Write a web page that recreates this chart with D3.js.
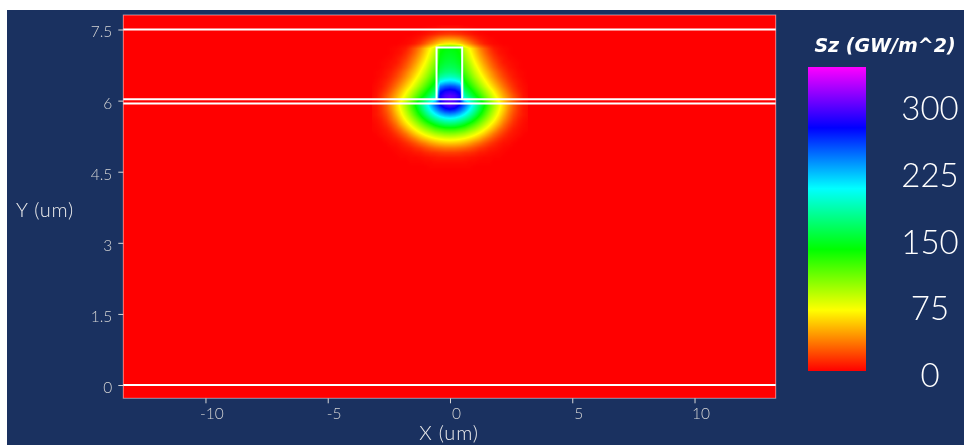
<!DOCTYPE html>
<html>
<head>
<meta charset="utf-8">
<script src="https://cdn.jsdelivr.net/npm/d3@7"></script>
<style>
  html, body { margin: 0; padding: 0; background: #ffffff; }
  #wrap { position: relative; width: 964px; height: 445px; overflow: hidden; }
  #wrap svg, #wrap canvas { position: absolute; left: 0; top: 0; }
</style>
</head>
<body>
<div id="wrap"></div>
<script>
// ---- Axis ticks ----
const xTicks = [-10, -5, 0, 5, 10];
const yTicks = [0, 1.5, 3, 4.5, 6, 7.5];
const cbTicks = [0, 75, 150, 225, 300];
const cbMax = 342;

// ---- Geometry (um): horizontal interfaces and the rib outline ----
const layerY = [7.5, 6.03, 5.94, 0];
const ribX = [-0.55, 0.5];
const ribY = [6.03, 7.12];

// ---- Sz field (GW/m^2), half profile x >= 0 (mode is symmetric in x) ----
const xHalf = [0, 0.2, 0.4, 0.6, 0.8, 1.0, 1.2, 1.4, 1.6, 1.8, 2.0, 2.2, 2.4, 2.6, 2.8, 3.0, 3.2];
const yRows = [7.6, 7.5, 7.4, 7.3, 7.2, 7.1, 7.0, 6.9, 6.8, 6.7, 6.6, 6.5, 6.4, 6.3, 6.2, 6.1,
               6.0, 5.9, 5.8, 5.7, 5.6, 5.5, 5.4, 5.3, 5.2, 5.1, 5.0, 4.9, 4.8, 4.7, 4.6, 4.5];
const szRows = [
  [1,1,1,0,0,0,0,0,0,0,0,0,0,0,0,0,0],
  [5,5,4,3,2,1,0,0,0,0,0,0,0,0,0,0,0],
  [16,15,13,10,7,4,2,1,0,0,0,0,0,0,0,0,0],
  [41,40,36,28,20,13,7,4,2,1,0,0,0,0,0,0,0],
  [66,64,58,48,37,25,15,8,4,2,1,0,0,0,0,0,0],
  [140,138,132,82,68,53,37,25,15,7,4,2,1,0,0,0,0],
  [144,142,136,89,74,58,43,30,19,11,5,3,1,0,0,0,0],
  [148,146,140,96,79,64,49,36,25,15,9,5,2,1,0,0,0],
  [153,151,144,103,87,70,56,42,30,20,12,6,4,2,1,0,0],
  [160,158,151,110,94,77,63,49,36,25,16,10,5,3,1,0,0],
  [170,168,160,118,101,85,70,56,44,32,22,14,8,5,2,1,0],
  [188,185,177,127,110,93,78,64,50,38,27,18,11,6,3,1,0],
  [216,213,203,138,121,104,88,73,59,46,34,24,15,9,5,2,0],
  [254,250,239,150,133,116,99,83,68,55,42,30,20,12,6,3,1],
  [282,278,265,165,148,130,113,96,80,65,51,38,26,16,9,4,1],
  [298,293,279,182,163,144,126,108,90,74,59,45,33,22,13,5,2],
  [298,292,275,214,191,168,146,124,103,84,67,51,37,24,14,6,3],
  [298,290,271,246,219,192,165,139,115,94,75,57,40,25,14,7,4],
  [268,263,248,228,204,180,155,130,109,89,70,54,36,23,13,6,3],
  [232,228,218,202,183,162,139,119,99,81,64,47,31,19,11,6,3],
  [196,193,185,173,158,139,121,104,87,71,55,39,26,15,8,4,2],
  [162,160,153,143,130,117,103,88,73,59,45,30,19,11,6,3,1],
  [128,127,122,116,106,96,84,71,59,46,32,22,13,7,4,2,1],
  [101,100,96,91,83,75,65,55,43,31,22,14,8,5,3,1,0],
  [76,75,72,68,62,55,47,37,28,20,13,8,5,3,1,0,0],
  [54,53,51,47,42,35,29,22,16,11,7,4,3,1,0,0,0],
  [32,32,30,28,24,20,15,12,8,6,4,2,1,0,0,0,0],
  [16,16,15,13,12,10,7,6,4,3,2,1,0,0,0,0,0],
  [7,7,7,6,5,4,3,2,2,1,1,0,0,0,0,0,0],
  [3,3,3,3,2,2,1,1,1,0,0,0,0,0,0,0,0],
  [1,1,1,1,1,0,0,0,0,0,0,0,0,0,0,0,0],
  [0,0,0,0,0,0,0,0,0,0,0,0,0,0,0,0,0]
];

// ---- Layout ----
const W = 964, H = 445;
const bg = "#1a3160";
const frame = { left: 7, top: 10 };
const plot = { left: 123.3, top: 15, right: 775.7, bottom: 398.3 };
const bar = { left: 808, right: 866, top: 67, bottom: 371 };

const x = d3.scaleLinear().domain([-13.36, 13.32]).range([plot.left, plot.right]);
const y = d3.scaleLinear().domain([-0.28, 7.806]).range([plot.bottom, plot.top]);

// rainbow map: red -> yellow -> green -> cyan -> blue -> magenta
const rainbow = ["#ff0000", "#ffff00", "#00ff00", "#00ffff", "#0000ff", "#ff00ff"];
const color = d3.scaleLinear()
  .domain(rainbow.map((c, i) => i * cbMax / (rainbow.length - 1)))
  .range(rainbow)
  .clamp(true);

const wrap = d3.select("#wrap");

// background layer
const back = wrap.append("svg").attr("width", W).attr("height", H);
back.append("rect").attr("x", frame.left).attr("y", frame.top)
  .attr("width", W - frame.left).attr("height", H - frame.top).attr("fill", bg);

// ---- Field raster ----
const fullX = xHalf.slice(1).map(v => -v).reverse().concat(xHalf);
const fullRows = szRows.map(r => r.slice(1).reverse().concat(r));
const colIdx = d3.scaleLinear().domain([fullX[0], fullX[fullX.length - 1]]).range([0, fullX.length - 1]);
const rowIdx = d3.scaleLinear().domain([yRows[0], yRows[yRows.length - 1]]).range([0, yRows.length - 1]);

function sample(xv, yv) {
  const ci = colIdx(xv), ri = rowIdx(yv);
  if (ci < 0 || ri < 0 || ci > fullX.length - 1 || ri > yRows.length - 1) return 0;
  const c0 = Math.min(Math.floor(ci), fullX.length - 2), r0 = Math.min(Math.floor(ri), yRows.length - 2);
  const tc = ci - c0, tr = ri - r0;
  const a = fullRows[r0][c0], b = fullRows[r0][c0 + 1];
  const c = fullRows[r0 + 1][c0], d = fullRows[r0 + 1][c0 + 1];
  return (a * (1 - tc) + b * tc) * (1 - tr) + (c * (1 - tc) + d * tc) * tr;
}

// colour lookup table
const lut = d3.range(1024).map(i => d3.rgb(color(i / 1023 * cbMax)));

const cx0 = Math.round(plot.left), cy0 = Math.round(plot.top);
const cw = Math.round(plot.right) - cx0, ch = Math.round(plot.bottom) - cy0;
const canvas = wrap.append("canvas")
  .attr("width", cw).attr("height", ch)
  .style("left", cx0 + "px").style("top", cy0 + "px");
const ctx = canvas.node().getContext("2d");
const img = ctx.createImageData(cw, ch);
for (let j = 0; j < ch; j++) {
  const yv = y.invert(cy0 + j + 0.5);
  for (let i = 0; i < cw; i++) {
    const xv = x.invert(cx0 + i + 0.5);
    const v = sample(xv, yv);
    const k = Math.max(0, Math.min(1023, Math.round(v / cbMax * 1023)));
    const c = lut[k];
    const p = (j * cw + i) * 4;
    img.data[p] = c.r; img.data[p + 1] = c.g; img.data[p + 2] = c.b; img.data[p + 3] = 255;
  }
}
ctx.putImageData(img, 0, 0);

// ---- Front layer: geometry, axes, colour bar ----
const svg = wrap.append("svg").attr("width", W).attr("height", H);

svg.append("rect")
  .attr("x", plot.left).attr("y", plot.top)
  .attr("width", plot.right - plot.left).attr("height", plot.bottom - plot.top)
  .attr("fill", "none").attr("stroke", "rgba(255,230,230,0.55)").attr("stroke-width", 1);

const geo = svg.append("g").attr("fill", "none").attr("stroke", "#ffffff").attr("stroke-width", 2);
geo.selectAll("line.layer").data(layerY).join("line")
  .attr("class", "layer")
  .attr("x1", plot.left).attr("x2", plot.right)
  .attr("y1", d => y(d)).attr("y2", d => y(d));
geo.append("path")
  .attr("d", d3.line()([
    [x(ribX[0]), y(ribY[0])], [x(ribX[0]), y(ribY[1])],
    [x(ribX[1]), y(ribY[1])], [x(ribX[1]), y(ribY[0])]
  ]));

const tickFont = "Lato, 'Open Sans', sans-serif";

const yAxis = svg.append("g")
  .attr("transform", `translate(${plot.left},0)`)
  .call(d3.axisLeft(y).tickValues(yTicks).tickSize(5).tickPadding(6).tickFormat(d => String(d)));
yAxis.select(".domain").remove();
yAxis.selectAll(".tick line").attr("stroke", "#d8d8d8");
yAxis.selectAll(".tick text")
  .attr("fill", "#d4d4d4").attr("font-family", tickFont).attr("font-weight", 300)
  .attr("font-size", 15.5).attr("dy", "0.32em").attr("y", 2.5);

const xAxis = svg.append("g")
  .attr("transform", `translate(0,${plot.bottom})`)
  .call(d3.axisBottom(x).tickValues(xTicks).tickSize(5).tickFormat(d => String(d)));
xAxis.select(".domain").remove();
xAxis.selectAll(".tick line").attr("stroke", "#d8d8d8");
xAxis.selectAll(".tick text")
  .attr("fill", "#d4d4d4").attr("font-family", tickFont).attr("font-weight", 300)
  .attr("font-size", 15.5).attr("dy", 0).attr("y", 21).attr("x", 6);

svg.append("text").text("Y (um)")
  .attr("x", 16).attr("y", 217)
  .attr("fill", "#ececec").attr("font-family", tickFont).attr("font-weight", 300)
  .attr("font-size", 20).attr("letter-spacing", 0.8);
svg.append("text").text("X (um)")
  .attr("x", 449).attr("y", 440).attr("text-anchor", "middle")
  .attr("fill", "#ececec").attr("font-family", tickFont).attr("font-weight", 300)
  .attr("font-size", 20).attr("letter-spacing", 0.8);

// colour bar
const grad = svg.append("defs").append("linearGradient")
  .attr("id", "szGrad").attr("x1", 0).attr("y1", 1).attr("x2", 0).attr("y2", 0);
grad.selectAll("stop").data(rainbow).join("stop")
  .attr("offset", (d, i) => i / (rainbow.length - 1))
  .attr("stop-color", d => d);

const cb = d3.scaleLinear().domain([0, cbMax]).range([bar.bottom, bar.top]);
svg.append("rect")
  .attr("x", bar.left).attr("y", cb(cbMax))
  .attr("width", bar.right - bar.left).attr("height", cb(0) - cb(cbMax))
  .attr("fill", "url(#szGrad)");

svg.append("g").selectAll("text").data(cbTicks).join("text")
  .text(d => d)
  .attr("x", 930).attr("y", d => cb(d) + 4)
  .attr("dy", "0.36em").attr("text-anchor", "middle")
  .attr("fill", "#ffffff").attr("font-family", tickFont).attr("font-weight", 300)
  .attr("font-size", 33);

svg.append("text").text("Sz (GW/m^2)")
  .attr("x", 885).attr("y", 52).attr("text-anchor", "middle")
  .attr("fill", "#ffffff").attr("font-family", "'DejaVu Sans', sans-serif")
  .attr("font-weight", 700).attr("font-style", "italic").attr("font-size", 19);
</script>
</body>
</html>
